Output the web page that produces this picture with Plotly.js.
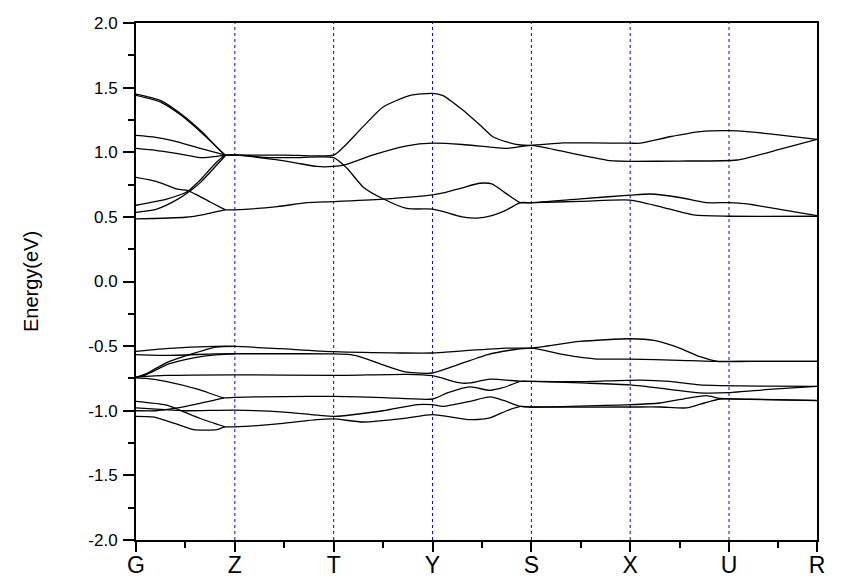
<!DOCTYPE html>
<html>
<head>
<meta charset="utf-8">
<script src="https://cdn.plot.ly/plotly-3.0.1.min.js"></script>
<style>
  html, body { margin: 0; padding: 0; background: #fff; }
  #plot { width: 848px; height: 585px; }
</style>
</head>
<body>
<div id="plot"></div>
<script>
// k-path (distance along path) and labels
const kTicks = [0, 1, 2, 3, 4, 5, 6, 6.89]
const kLabels = ['G', 'Z', 'T', 'Y', 'S', 'X', 'U', 'R']
const kMinor = [0.5, 1.5, 2.5, 3.5, 4.5, 5.5, 6.5]
const yTicks = [-2, -1.5, -1, -0.5, 0, 0.5, 1, 1.5, 2]

// conduction bands [k, E]
const cb1 = [[0,1.45],[0.25,1.40],[0.45,1.30],[0.68,1.15],[0.905,0.978],[1.0,0.978],[1.5,0.978],[2.0,0.978],[2.1,1.04],[2.3,1.20],[2.5,1.35],[2.775,1.44],[3.0,1.455],[3.1,1.44],[3.3,1.33],[3.48,1.21],[3.61,1.12],[3.75,1.08],[3.89,1.056],[4.0,1.053],[4.32,1.072],[4.6,1.072],[5.0,1.07],[5.1,1.07],[5.4,1.12],[5.71,1.16],[6.0,1.167],[6.18,1.16],[6.5,1.135],[6.89,1.10]]
const cb2 = [[0,1.44],[0.25,1.388],[0.45,1.29],[0.68,1.14],[0.905,0.976]]
const cb3 = [[0,1.13],[0.2,1.115],[0.42,1.08],[0.65,1.03],[0.905,0.978]]
const cb4 = [[0,1.03],[0.2,1.015],[0.44,0.987],[0.67,0.958],[0.905,0.976],[1.1,0.975],[1.3,0.96],[1.6,0.958],[2.0,0.958],[2.135,0.876],[2.3,0.73],[2.5,0.64],[2.74,0.565],[3.0,0.56],[3.11,0.54],[3.3,0.50],[3.45,0.49],[3.6,0.51],[3.75,0.554],[3.89,0.61],[4.0,0.61],[4.5,0.62],[5.0,0.63],[5.3,0.58],[5.64,0.515],[6.0,0.505],[6.89,0.505]]
const cb5 = [[0,0.59],[0.31,0.637],[0.52,0.696],[0.65,0.786],[0.905,0.977],[1.29,0.954],[1.6,0.92],[1.83,0.89],[2.0,0.89],[2.1,0.90],[2.4,0.98],[2.74,1.05],[3.0,1.07],[3.3,1.06],[3.58,1.04],[3.75,1.03],[4.0,1.053],[4.3,1.01],[4.55,0.97],[4.8,0.935],[5.0,0.93],[5.5,0.932],[6.08,0.94],[6.5,1.02],[6.89,1.10]]
const cb6 = [[0,0.535],[0.21,0.56],[0.41,0.631],[0.58,0.72],[0.65,0.765],[0.905,0.975]]
const cb7 = [[0,0.805],[0.21,0.773],[0.42,0.714],[0.52,0.705],[0.6,0.676],[0.75,0.615],[0.905,0.554]]
const cb8 = [[0,0.485],[0.5,0.497],[0.7,0.52],[0.905,0.554],[1.0,0.554],[1.43,0.58],[1.73,0.61],[2.0,0.618],[2.5,0.637],[3.0,0.67],[3.11,0.685],[3.3,0.725],[3.48,0.76],[3.6,0.755],[3.75,0.678],[3.89,0.61],[4.0,0.61],[4.5,0.64],[5.0,0.668],[5.2,0.677],[5.5,0.65],[5.77,0.61],[6.0,0.61],[6.18,0.60],[6.5,0.56],[6.89,0.51]]

// valence bands [k, E]
const vb1 = [[0,-0.541],[0.3,-0.52],[0.8,-0.502],[1.0,-0.502],[1.46,-0.52],[2.0,-0.543],[2.7,-0.553],[3.0,-0.553],[3.31,-0.536],[3.75,-0.515],[4.0,-0.515],[4.49,-0.464],[5.0,-0.443],[5.24,-0.456],[5.5,-0.515],[5.7,-0.58],[5.88,-0.618],[6.2,-0.618],[6.89,-0.618]]
const vb2 = [[0,-0.566],[0.3,-0.572],[0.8,-0.56],[1.0,-0.559],[1.5,-0.559],[2.0,-0.56],[2.17,-0.566],[2.3,-0.59],[2.5,-0.645],[2.74,-0.702],[3.0,-0.708],[3.21,-0.657],[3.55,-0.567],[3.8,-0.53],[4.0,-0.515],[4.33,-0.566],[4.66,-0.60],[5.0,-0.60],[5.5,-0.61],[5.84,-0.618],[6.89,-0.618]]
const vb3 = [[0,-0.74],[0.1,-0.715],[0.30,-0.631],[0.54,-0.566],[0.81,-0.507],[1.0,-0.502]]
const vb4 = [[0,-0.742],[0.1,-0.722],[0.33,-0.638],[0.57,-0.592],[0.83,-0.566],[1.0,-0.559]]
const vb5 = [[0,-0.74],[0.3,-0.727],[1.0,-0.722],[2.0,-0.727],[2.74,-0.718],[3.0,-0.729],[3.28,-0.785],[3.38,-0.785],[3.58,-0.755],[3.89,-0.772],[4.0,-0.773],[4.5,-0.775],[5.1,-0.763],[5.4,-0.773],[5.7,-0.80],[6.4,-0.81],[6.89,-0.812]]
const vb6 = [[0,-0.745],[0.1,-0.75],[0.30,-0.773],[0.64,-0.837],[0.89,-0.90],[1.0,-0.896],[1.5,-0.89],[2.0,-0.889],[2.5,-0.898],[3.0,-0.909],[3.15,-0.862],[3.38,-0.816],[3.58,-0.842],[3.72,-0.82],[3.89,-0.772],[4.0,-0.773],[4.5,-0.785],[5.0,-0.80],[5.4,-0.835],[5.7,-0.862],[6.0,-0.86],[6.4,-0.835],[6.89,-0.812]]
const vb7 = [[0,-1.0],[0.2,-1.0],[0.4,-0.98],[0.6,-0.95],[0.89,-0.90]]
const vb8 = [[0,-0.978],[0.25,-0.99],[0.5,-1.0],[1.0,-0.995],[1.5,-1.01],[2.0,-1.043],[2.5,-1.0],[2.85,-0.952],[3.0,-0.953],[3.11,-0.966],[3.38,-0.927],[3.58,-0.893],[3.72,-0.92],[3.89,-0.966],[4.0,-0.971],[5.0,-0.953],[5.3,-0.94],[5.6,-0.90],[5.77,-0.883],[5.91,-0.905],[6.2,-0.91],[6.89,-0.92]]
const vb9 = [[0,-1.043],[0.17,-1.048],[0.4,-1.10],[0.58,-1.146],[0.82,-1.146],[0.9,-1.125],[1.0,-1.125],[1.46,-1.10],[1.83,-1.069],[2.0,-1.063],[2.3,-1.087],[2.7,-1.06],[3.0,-1.03],[3.38,-1.069],[3.58,-1.056],[3.75,-1.0],[3.89,-0.966],[4.0,-0.971],[5.0,-0.971],[5.3,-0.971],[5.57,-0.978],[5.75,-0.94],[5.91,-0.909],[6.2,-0.912],[6.89,-0.922]]
const vb10 = [[0,-0.927],[0.3,-0.955],[0.45,-0.997],[0.65,-1.06],[0.9,-1.125]]

const bands = [cb1, cb2, cb3, cb4, cb5, cb6, cb7, cb8, vb1, vb2, vb3, vb4, vb5, vb6, vb7, vb8, vb9, vb10]

const traces = bands.map(b => ({
  x: b.map(p => p[0]),
  y: b.map(p => p[1]),
  type: 'scatter',
  mode: 'lines',
  hoverinfo: 'none',
  line: {color: '#000', width: 1.3, shape: 'spline', smoothing: 0.6},
}))

// dotted guides at the inner high-symmetry points
const guides = kTicks.slice(1, -1).map(k => ({
  type: 'line',
  xref: 'x',
  yref: 'paper',
  x0: k,
  x1: k,
  y0: 0,
  y1: 1,
  line: {color: '#0000ff', width: 1, dash: 'dot'},
  layer: 'below',
}))

const layout = {
  width: 848,
  height: 585,
  margin: {l: 136, r: 31, t: 23, b: 45},
  paper_bgcolor: '#fff',
  plot_bgcolor: '#fff',
  showlegend: false,
  font: {family: 'Liberation Sans, Arial, sans-serif', color: '#000'},
  shapes: guides,
  xaxis: {
    range: [0, kTicks[kTicks.length - 1]],
    tickmode: 'array',
    tickvals: kTicks,
    ticktext: kLabels,
    ticks: 'outside',
    ticklen: 10,
    tickwidth: 2,
    tickcolor: '#000',
    tickfont: {size: 23},
    ticklabelstandoff: -7,
    showline: true,
    linewidth: 2,
    linecolor: '#000',
    mirror: true,
    showgrid: false,
    zeroline: false,
    minor: {tickmode: 'array', tickvals: kMinor, ticks: 'outside', ticklen: 6, tickwidth: 2, tickcolor: '#000', showgrid: false},
  },
  yaxis: {
    range: [-2, 2],
    tickmode: 'array',
    tickvals: yTicks,
    ticktext: yTicks.map(v => v.toFixed(1)),
    ticks: 'outside',
    ticklen: 11,
    tickwidth: 2,
    tickcolor: '#000',
    tickfont: {size: 17},
    ticklabelstandoff: 2,
    showline: true,
    linewidth: 2,
    linecolor: '#000',
    mirror: true,
    showgrid: false,
    zeroline: false,
    minor: {tickmode: 'linear', tick0: -2, dtick: 0.25, ticks: 'outside', ticklen: 6, tickwidth: 2, tickcolor: '#000', showgrid: false},
    title: {text: 'Energy(eV)', font: {size: 20}, standoff: 44},
  },
}

Plotly.newPlot('plot', traces, layout, {staticPlot: true, displayModeBar: false})
</script>
</body>
</html>
